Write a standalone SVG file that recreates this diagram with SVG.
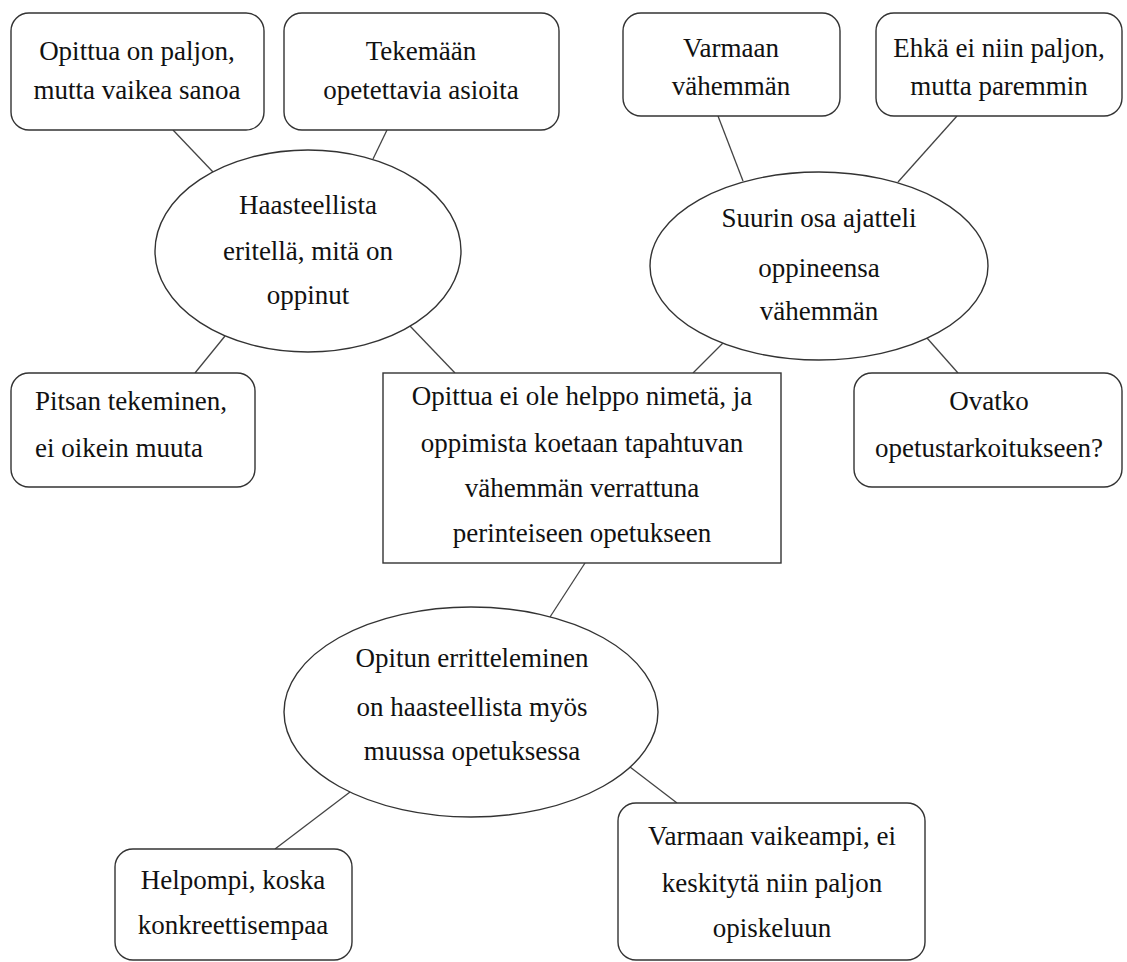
<svg xmlns="http://www.w3.org/2000/svg" width="1127" height="962" viewBox="0 0 1127 962">
<style>
.shape{fill:#fff;stroke:#333;stroke-width:1.4}
.conn line{stroke:#444;stroke-width:1.3}
text{font-family:"Liberation Serif","Times New Roman",serif;font-size:27px;fill:#111;text-anchor:middle}
.left{text-anchor:start}
</style>
<rect width="1127" height="962" fill="#fff"/>
<g id="connectors" class="conn">
<line x1="173" y1="130" x2="213" y2="172"/>
<line x1="387" y1="130" x2="373" y2="159"/>
<line x1="225" y1="336" x2="195" y2="373"/>
<line x1="410" y1="326" x2="455" y2="373"/>
<line x1="718" y1="116" x2="743" y2="181"/>
<line x1="957" y1="116" x2="898" y2="182"/>
<line x1="723" y1="343" x2="693" y2="373"/>
<line x1="927" y1="338" x2="958" y2="373"/>
<line x1="585" y1="563" x2="550" y2="617"/>
<line x1="350" y1="792" x2="275" y2="849"/>
<line x1="630" y1="767" x2="677" y2="803"/>
</g>
<g id="n1"><rect class="shape" x="11" y="13" width="253" height="117" rx="18"/>
<text x="137" y="60">Opittua on paljon,</text><text x="137" y="99">mutta vaikea sanoa</text></g>
<g id="n2"><rect class="shape" x="284" y="13" width="275" height="117" rx="18"/>
<text x="421" y="60">Tekemään</text><text x="421" y="99">opetettavia asioita</text></g>
<g id="n3"><rect class="shape" x="623" y="13" width="217" height="103" rx="18"/>
<text x="731" y="57">Varmaan</text><text x="731" y="95">vähemmän</text></g>
<g id="n4"><rect class="shape" x="876" y="13" width="246" height="103" rx="18"/>
<text x="999" y="57">Ehkä ei niin paljon,</text><text x="999" y="95">mutta paremmin</text></g>
<g id="e1"><ellipse class="shape" cx="308" cy="251" rx="153" ry="101"/>
<text x="308" y="214">Haasteellista</text><text x="308" y="260">eritellä, mitä on</text><text x="308" y="304">oppinut</text></g>
<g id="e2"><ellipse class="shape" cx="819" cy="266" rx="169" ry="94"/>
<text x="819" y="227">Suurin osa ajatteli</text><text x="819" y="277">oppineensa</text><text x="819" y="320">vähemmän</text></g>
<g id="n5"><rect class="shape" x="11" y="373" width="244" height="114" rx="18"/>
<text class="left" x="35" y="410">Pitsan tekeminen,</text><text class="left" x="35" y="457">ei oikein muuta</text></g>
<g id="center"><rect class="shape" x="383" y="373" width="398" height="190"/>
<text x="582" y="405">Opittua ei ole helppo nimetä, ja</text><text x="582" y="452">oppimista koetaan tapahtuvan</text><text x="582" y="497">vähemmän verrattuna</text><text x="582" y="542">perinteiseen opetukseen</text></g>
<g id="n6"><rect class="shape" x="854" y="373" width="268" height="114" rx="18"/>
<text x="989" y="410">Ovatko</text><text x="989" y="457">opetustarkoitukseen?</text></g>
<g id="e3"><ellipse class="shape" cx="471" cy="712" rx="187" ry="105"/>
<text x="472" y="667">Opitun erritteleminen</text><text x="472" y="716">on haasteellista myös</text><text x="472" y="760">muussa opetuksessa</text></g>
<g id="n7"><rect class="shape" x="115" y="849" width="237" height="111" rx="18"/>
<text x="233" y="889">Helpompi, koska</text><text x="233" y="934">konkreettisempaa</text></g>
<g id="n8"><rect class="shape" x="618" y="803" width="307" height="157" rx="18"/>
<text x="772" y="845">Varmaan vaikeampi, ei</text><text x="772" y="892">keskitytä niin paljon</text><text x="772" y="937">opiskeluun</text></g>
</svg>
